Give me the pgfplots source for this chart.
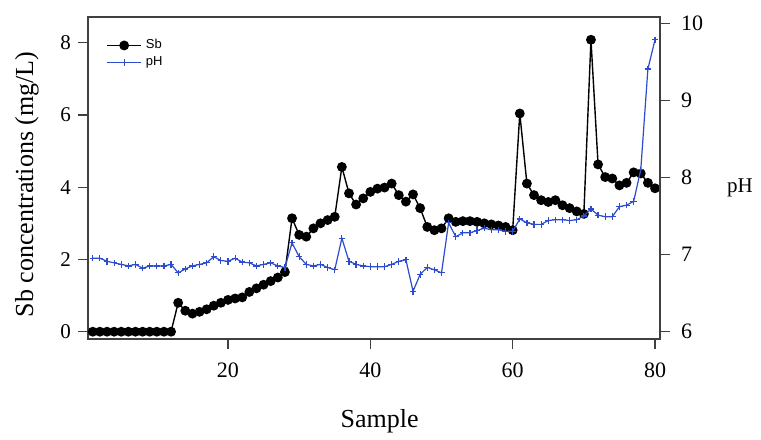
\documentclass[border=0pt]{standalone}
\usepackage{fontspec}
\setmainfont{Liberation Serif}
\newfontfamily\legfont{Liberation Sans}
\usepackage{pgfplots}
\pgfplotsset{compat=1.18}
\definecolor{pHblue}{RGB}{45,75,205}
\begin{document}
\begin{tikzpicture}
\begin{axis}[
  name=ax,
  scale only axis, width=286pt, height=161pt,
  xmin=0.33, xmax=80.7, ymin=-0.202, ymax=8.71,
  xtick={20,40,60,80}, ytick={0,2,4,6,8},
  xtick pos=bottom, ytick pos=left, tick align=outside,
  major tick length=5pt,
  /pgf/number format/assume math mode=true,
  tick label style={font=\fontsize{10.5}{12}\selectfont},
  xticklabel style={yshift=-3.5pt, font=\fontsize{11}{13}\selectfont},
  axis line style={line width=0.7pt, black!75},
  tick style={line width=0.6pt, black!75},
  xlabel={Sample}, ylabel={Sb concentrations (mg/L)},
  label style={font=\fontsize{13}{15}\selectfont},
  xlabel style={at={(axis description cs:0.51,-0.255)}, anchor=center},
  ylabel style={at={(axis description cs:-0.1066,0.48)}, anchor=center},
]
\addplot[black, line width=0.7pt, mark=*, mark size=2.1pt] coordinates {
(1,0)(2,0)(3,0)(4,0)(5,0)(6,0)(7,0)(8,0)(9,0)(10,0)(11,0)(12,0)
(13,0.8)(14,0.58)(15,0.5)(16,0.55)(17,0.62)(18,0.72)(19,0.8)(20,0.88)
(21,0.92)(22,0.95)(23,1.1)(24,1.2)(25,1.3)(26,1.4)(27,1.5)(28,1.65)
(29,3.14)(30,2.68)(31,2.63)(32,2.86)(33,3.0)(34,3.09)(35,3.18)(36,4.56)
(37,3.83)(38,3.52)(39,3.69)(40,3.87)(41,3.96)(42,3.99)(43,4.1)(44,3.78)
(45,3.6)(46,3.8)(47,3.42)(48,2.9)(49,2.81)(50,2.86)(51,3.14)(52,3.04)
(53,3.06)(54,3.06)(55,3.04)(56,3.0)(57,2.97)(58,2.94)(59,2.9)(60,2.81)
(61,6.04)(62,4.1)(63,3.78)(64,3.64)(65,3.59)(66,3.64)(67,3.5)(68,3.42)
(69,3.33)(70,3.26)(71,8.08)(72,4.63)(73,4.28)(74,4.24)(75,4.05)(76,4.12)
(77,4.41)(78,4.38)(79,4.12)(80,3.97)
};
\end{axis}
\begin{axis}[
  scale only axis, width=286pt, height=161pt,
  xmin=0.33, xmax=80.7, ymin=5.90, ymax=10.086,
  axis x line=none, axis y line*=right,
  ytick={6,7,8,9,10}, tick align=outside,
  major tick length=5pt,
  /pgf/number format/assume math mode=true,
  tick label style={font=\fontsize{11}{13}\selectfont},
  yticklabel style={xshift=2pt},
  axis line style={line width=0.7pt, black!75},
  tick style={line width=0.6pt, black!75},
  legend style={draw=none, fill=none, font=\legfont\fontsize{6.5}{8}\selectfont,
    at={(rel axis cs:0.021,0.957)}, anchor=north west, row sep=-1.5pt},
  legend cell align=left,
  clip mode=individual,
]
\addlegendimage{black, line width=0.7pt, mark=*, mark size=2.1pt}
\addlegendentry{Sb}
\addplot[pHblue, line width=0.6pt, mark=+, mark size=1.6pt] coordinates {
(1,6.95)(2,6.95)(3,6.91)(4,6.89)(5,6.87)(6,6.85)(7,6.87)(8,6.82)(9,6.85)(10,6.85)
(11,6.85)(12,6.87)(13,6.76)(14,6.81)(15,6.85)(16,6.87)(17,6.89)(18,6.97)(19,6.92)(20,6.91)
(21,6.95)(22,6.90)(23,6.89)(24,6.85)(25,6.87)(26,6.89)(27,6.85)(28,6.83)(29,7.15)(30,6.97)
(31,6.87)(32,6.85)(33,6.87)(34,6.83)(35,6.80)(36,7.21)(37,6.91)(38,6.87)(39,6.85)(40,6.84)
(41,6.84)(42,6.84)(43,6.87)(44,6.91)(45,6.93)(46,6.52)(47,6.74)(48,6.83)(49,6.80)(50,6.76)
(51,7.41)(52,7.23)(53,7.28)(54,7.28)(55,7.31)(56,7.34)(57,7.32)(58,7.32)(59,7.30)(60,7.30)
(61,7.46)(62,7.41)(63,7.39)(64,7.39)(65,7.44)(66,7.45)(67,7.45)(68,7.44)(69,7.45)(70,7.50)
(71,7.59)(72,7.51)(73,7.49)(74,7.49)(75,7.62)(76,7.64)(77,7.69)(78,8.10)(79,9.41)(80,9.79)
};
\addlegendentry{pH}
\node[font=\fontsize{10.5}{12}\selectfont, anchor=center] at (rel axis cs:1.14,0.47) {pH};
\end{axis}
\path (ax.south west) ++(-44pt,-47pt) coordinate (bbA);
\path (ax.south west) ++(336.5pt,169.5pt) coordinate (bbB);
\path (bbA) rectangle (bbB);
\end{tikzpicture}
\end{document}
